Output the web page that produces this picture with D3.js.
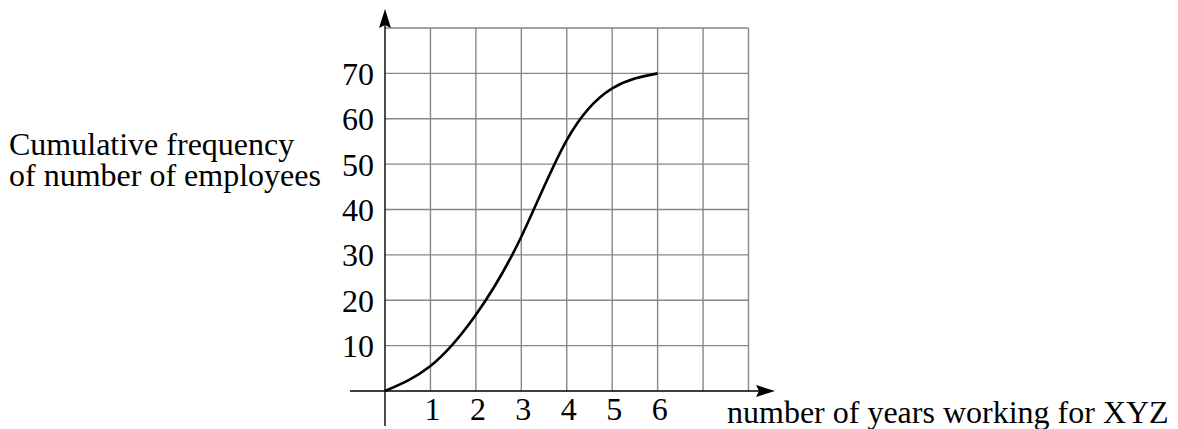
<!DOCTYPE html>
<html>
<head>
<meta charset="utf-8">
<script src="https://cdn.jsdelivr.net/npm/d3@7/dist/d3.min.js"></script>
<style>
  html, body { margin: 0; padding: 0; background: #fff; }
  svg { display: block; }
  text { font-family: "Liberation Serif", "DejaVu Serif", serif; fill: #000; }
</style>
</head>
<body>
<svg id="chart" width="1178" height="429"></svg>
<script>
// Years of service (x) and cumulative number of employees (y) along the curve
const years = [0, 1, 2, 3, 4, 5, 6];
const cumulative = [0, 5.5, 16.8, 34, 55.3, 66.7, 70];

const xTicks = [1, 2, 3, 4, 5, 6];
const yTicks = [10, 20, 30, 40, 50, 60, 70];
const xGrid = [1, 2, 3, 4, 5, 6, 7, 8];
const yGrid = [10, 20, 30, 40, 50, 60, 70, 80];

const yTitleLines = ["Cumulative frequency", "of number of employees"];
const xTitle = "number of years working for XYZ";

const svg = d3.select("#chart");

const x = d3.scaleLinear().domain([0, 8]).range([385, 748.5]);
const y = d3.scaleLinear().domain([0, 80]).range([391, 28]);

// grid
const grid = svg.append("g").attr("stroke", "#878787").attr("stroke-width", 1.4);
grid.selectAll("line.v").data(xGrid).join("line")
  .attr("class", "v")
  .attr("x1", d => x(d)).attr("x2", d => x(d))
  .attr("y1", y(0)).attr("y2", y(80));
grid.selectAll("line.h").data(yGrid).join("line")
  .attr("class", "h")
  .attr("x1", x(0)).attr("x2", x(8))
  .attr("y1", d => y(d)).attr("y2", d => y(d));

// axes with arrowheads
const axes = svg.append("g");
axes.append("line")
  .attr("x1", 350).attr("x2", 760)
  .attr("y1", y(0)).attr("y2", y(0))
  .attr("stroke", "#000").attr("stroke-width", 1.4);
axes.append("path")
  .attr("d", `M775,${y(0)} L756,${y(0) - 6} L759,${y(0)} L756,${y(0) + 6} Z`)
  .attr("fill", "#000");
axes.append("line")
  .attr("x1", x(0)).attr("x2", x(0))
  .attr("y1", 426).attr("y2", 24)
  .attr("stroke", "#000").attr("stroke-width", 1.4);
axes.append("path")
  .attr("d", `M${x(0)},9 L${x(0) - 6},28 L${x(0)},25 L${x(0) + 6},28 Z`)
  .attr("fill", "#000");

// tick labels
svg.append("g").selectAll("text").data(xTicks).join("text")
  .attr("x", d => x(d) + 2)
  .attr("y", 420)
  .attr("text-anchor", "middle")
  .attr("font-size", 32)
  .text(d => d);

svg.append("g").selectAll("text").data(yTicks).join("text")
  .attr("x", 374)
  .attr("y", d => y(d) + 11.5)
  .attr("text-anchor", "end")
  .attr("font-size", 32)
  .text(d => d);

// curve
const line = d3.line()
  .x((d, i) => x(years[i]))
  .y(d => y(d))
  .curve(d3.curveNatural);
svg.append("path")
  .datum(cumulative)
  .attr("d", line)
  .attr("fill", "none")
  .attr("stroke", "#000")
  .attr("stroke-width", 2.6);

// axis titles
svg.append("g").selectAll("text").data(yTitleLines).join("text")
  .attr("x", 9)
  .attr("y", (d, i) => 155 + i * 31)
  .attr("font-size", 32)
  .text(d => d);

svg.append("text")
  .attr("x", 727)
  .attr("y", 423)
  .attr("font-size", 32)
  .text(xTitle);
</script>
</body>
</html>
